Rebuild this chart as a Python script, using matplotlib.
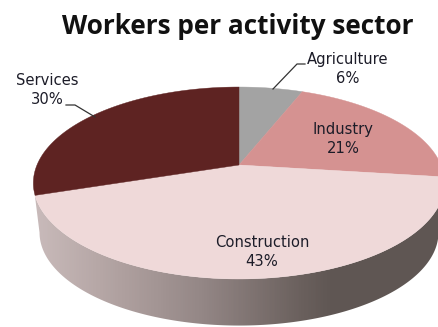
import numpy as np
import matplotlib
matplotlib.use('Agg')
import matplotlib.pyplot as plt
from matplotlib.colors import LinearSegmentedColormap
from matplotlib.patches import Polygon

categories = ['Agriculture', 'Industry', 'Construction', 'Services']
shares = [6, 21, 43, 30]
colors = ['#A3A3A3', '#D59291', '#EFD9D9', '#5E2322']

# pie geometry in pixels, with a simple perspective so the back looks smaller
cx, cy = 239, 165
a, b, k = 202, 92.6, 0.1875
base_y = 215
base_scale = 0.97


def rim(theta, y0=cy, s=1.0):
    # theta is clockwise from 12 o'clock
    u, v = np.sin(theta), np.cos(theta)
    w = 1 + k * v
    return cx + s * a * u / w, y0 - s * b * v / w


fig = plt.figure(figsize=(4.38, 3.27), dpi=100)
ax = fig.add_axes([0, 0, 1, 1])
ax.set_xlim(0, 438)
ax.set_ylim(327, 0)
ax.axis('off')

# side wall with a horizontal gradient
t = np.linspace(np.pi / 2 + 0.19, 3 * np.pi / 2 - 0.19, 200)
tx, ty = rim(t)
bx, by = rim(t[::-1], base_y, base_scale)
wall = Polygon(np.column_stack([np.r_[tx, bx], np.r_[ty, by]]), closed=True,
               transform=ax.transData, fc='none', ec='none')
ax.add_patch(wall)
wall_cmap = LinearSegmentedColormap.from_list('wall', [
    (0.0, '#D3C5C5'), (0.27, '#B0A1A0'), (0.46, '#948786'),
    (0.69, '#6A605D'), (0.76, '#5F5653'), (1.0, '#5F5653')])
grad = ax.imshow(np.linspace(0, 1, 438)[None, :], cmap=wall_cmap, aspect='auto',
                 extent=[0, 438, 327, 0], zorder=1)
grad.set_clip_path(wall)
ax.set_xlim(0, 438)
ax.set_ylim(327, 0)

# top face
edges = np.cumsum([0] + shares) / sum(shares) * 2 * np.pi
for i in range(len(shares)):
    th = np.linspace(edges[i], edges[i + 1], 120)
    x, y = rim(th)
    ax.add_patch(Polygon(np.column_stack([np.r_[cx, x], np.r_[cy, y]]), closed=True,
                         fc=colors[i], ec=colors[i], lw=0.3, zorder=2))

ax.text(238, 26, 'Workers per activity sector', ha='center', va='center',
        fontsize=18.8, fontweight='bold', family='Open Sans', color='#111111')

label_pos = [(348, 69), (343, 139), (262, 252), (47, 90)]
for name, val, (lx, ly) in zip(categories, shares, label_pos):
    ax.text(lx, ly, f'{name}\n{val}%', ha='center', va='center', fontsize=10.6,
            family='DejaVu Sans', color='#1C1C28', linespacing=1.3, zorder=4)

# leader lines
ax.plot([273, 297, 305], [89, 64, 64], color='#333333', lw=0.9, zorder=3)
ax.plot([95, 75, 66], [117, 105, 105], color='#333333', lw=0.9, zorder=3)

fig.savefig('out.png', dpi=100)
